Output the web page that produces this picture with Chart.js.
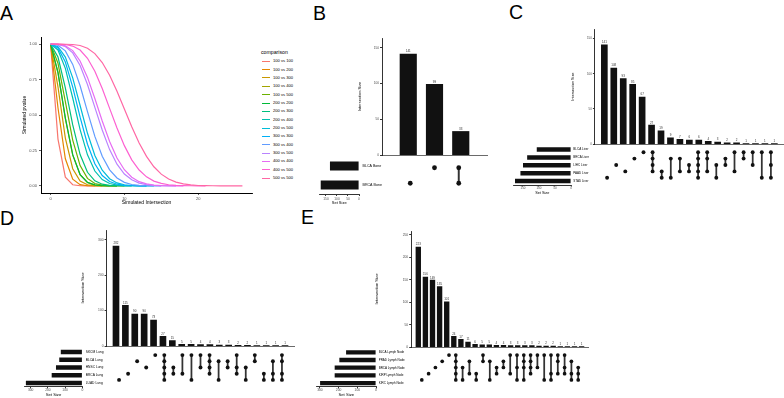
<!DOCTYPE html>
<html lang="en">
<head>
<meta charset="UTF-8">
<title>Simulated intersection p-values and metastasis UpSet plots</title>
<script src="https://cdn.jsdelivr.net/npm/chart.js"></script>
<style>
  html, body { margin: 0; padding: 0; background: #fff; }
  #fig { position: relative; width: 784px; height: 398px; overflow: hidden; font-family: "Liberation Sans", Arial, sans-serif; }
  #fig canvas { position: absolute; }
  .tag { position: absolute; font-size: 19.5px; line-height: 19.5px; color: #000; }
  .key { position: absolute; height: 8px; line-height: 8px; font-size: 4.1px; color: #000; white-space: nowrap; }
  .key i { position: absolute; left: 0; top: 3.5px; width: 8px; height: 1px; }
  .key span { position: absolute; left: 11px; top: 0; }
</style>
</head>
<body>
<div id="fig">
  <div class="tag" style="left:0px;top:4px">A</div>
  <div class="tag" style="left:313px;top:3.5px">B</div>
  <div class="tag" style="left:509px;top:2.5px">C</div>
  <div class="tag" style="left:0px;top:208.5px">D</div>
  <div class="tag" style="left:301px;top:207.5px">E</div>
</div>
<script>
// ---- A: simulated p-value against intersection size ----
const aX = [0, 1, 2, 3, 4, 5, 6, 7, 8, 9, 10, 11, 12, 13, 14, 15, 16, 17, 18, 19, 20, 21, 22, 23, 24, 25, 26];
const aComparisons = ['100 vs 100', '100 vs 200', '100 vs 300', '100 vs 400', '100 vs 500',
  '200 vs 200', '200 vs 300', '200 vs 400', '200 vs 500', '300 vs 300',
  '300 vs 400', '300 vs 500', '400 vs 400', '400 vs 500', '500 vs 500'];
const p100v100 = [1, 0.33, 0.062, 0.008, 0.001, 0, 0];
const p100v200 = [1, 0.551, 0.191, 0.047, 0.009, 0.001, 0, 0];
const p100v300 = [1, 0.699, 0.337, 0.121, 0.034, 0.008, 0.002, 0, 0];
const p100v400 = [1, 0.798, 0.475, 0.217, 0.079, 0.024, 0.006, 0.001, 0, 0];
const p100v500 = [1, 0.865, 0.594, 0.323, 0.143, 0.053, 0.017, 0.005, 0.001, 0, 0];
const p200v200 = [1, 0.8, 0.48, 0.22, 0.08, 0.025, 0.007, 0.001, 0, 0];
const p200v300 = [1, 0.909, 0.692, 0.43, 0.221, 0.096, 0.036, 0.012, 0.004, 0.001, 0, 0];
const p200v400 = [1, 0.959, 0.829, 0.62, 0.397, 0.219, 0.105, 0.045, 0.017, 0.006, 0.002, 0.001, 0, 0];
const p200v500 = [1, 0.982, 0.908, 0.762, 0.567, 0.371, 0.215, 0.111, 0.051, 0.021, 0.008, 0.003, 0.001, 0, 0];
const p300v300 = [1, 0.973, 0.874, 0.697, 0.485, 0.294, 0.156, 0.073, 0.031, 0.012, 0.004, 0.001, 0, 0];
const p300v400 = [1, 0.992, 0.952, 0.857, 0.706, 0.524, 0.349, 0.209, 0.113, 0.056, 0.025, 0.01, 0.004, 0.001, 0, 0];
const p300v500 = [1, 0.998, 0.983, 0.938, 0.849, 0.715, 0.554, 0.394, 0.256, 0.153, 0.084, 0.043, 0.02, 0.009, 0.004, 0.001, 0, 0];
const p400v400 = [1, 0.998, 0.988, 0.954, 0.881, 0.765, 0.616, 0.458, 0.313, 0.197, 0.114, 0.061, 0.03, 0.014, 0.006, 0.002, 0.001, 0, 0];
const p400v500 = [1, 1, 0.997, 0.986, 0.958, 0.9, 0.809, 0.687, 0.547, 0.408, 0.284, 0.184, 0.112, 0.064, 0.034, 0.018, 0.008, 0.004, 0.002, 0.001, 0, 0];
const p500v500 = [1, 1, 0.999, 0.997, 0.99, 0.971, 0.933, 0.87, 0.78, 0.667, 0.542, 0.417, 0.303, 0.208, 0.135, 0.083, 0.049, 0.027, 0.014, 0.007, 0.003, 0.002, 0.001, 0, 0, 0, 0];
const aSeries = [p100v100, p100v200, p100v300, p100v400, p100v500, p200v200, p200v300, p200v400,
  p200v500, p300v300, p300v400, p300v500, p400v400, p400v500, p500v500];
const aXTicks = [0, 10, 20];
const aYTicks = [0, 0.25, 0.5, 0.75, 1];

// ---- B: bone ----
const bSets = ['BLCA Bone', 'BRCA Bone'];
const bSetSizes = [132, 174];
const bSizes = [141, 99, 33];
const bMembers = [[1], [0], [0, 1]];

// ---- C: liver ----
const cSets = ['BLCA Liver', 'BRCA Liver', 'LIHC Liver', 'PAAD Liver', 'STAD Liver'];
const cSetSizes = [107, 137, 150, 158, 175];
const cSizes = [141, 108, 93, 85, 67, 27, 19, 9, 7, 6, 6, 4, 3, 2, 2, 1, 1, 1, 1];
const cMembers = [[4], [2], [3], [1], [0], [0, 1, 2, 3], [3, 4], [1, 4], [1, 3], [2, 3],
  [0, 1, 2, 3, 4], [0, 1, 3], [2, 4], [1, 2], [0, 3], [0, 1], [0, 2], [0, 4], [0, 2, 4]];

// ---- D: lung ----
const dSets = ['SKCM Lung', 'BLCA Lung', 'HNSC Lung', 'BRCA Lung', 'LUAD Lung'];
const dSetSizes = [125, 134, 153, 178, 328];
const dSizes = [282, 115, 90, 90, 73, 27, 15, 5, 5, 4, 4, 3, 3, 2, 2, 1, 1, 1, 1];
const dMembers = [[4], [3], [1], [2], [0], [0, 1, 2, 3, 4], [2, 3], [0, 3], [0, 4], [0, 2],
  [0, 1, 2, 3], [1, 4], [1, 2], [0, 2, 3], [2, 4], [0, 1], [3, 4], [1, 3, 4], [0, 1, 3, 4]];

// ---- E: lymph node ----
const eSets = ['BLCA Lymph Node', 'PRAD Lymph Node', 'BRCA Lymph Node', 'KIRP Lymph Node', 'KIRC Lymph Node'];
const eSetSizes = [160, 196, 221, 221, 299];
const eSizes = [223, 156, 149, 135, 101, 24, 17, 11, 6, 5, 5, 4, 4, 3, 3, 3, 3, 2, 2, 2, 1, 1, 1, 1];
const eMembers = [[4], [3], [2], [1], [0], [0, 1, 2, 3, 4], [2, 4], [1, 3], [3, 4], [0, 1],
  [1, 4], [2, 3], [1, 2], [0, 3], [0, 2, 4], [0, 1, 2, 4], [0, 1, 2, 3], [0, 2], [0, 4], [0, 3, 4],
  [0, 1, 3], [0, 2, 3], [1, 3, 4], [2, 3, 4]];

const hue = ['#F8766D', '#E58700', '#C99800', '#A3A500', '#6BB100', '#00BA38', '#00BF7D', '#00C0AF',
  '#00BCD8', '#00B0F6', '#619CFF', '#B983FF', '#E76BF3', '#FD61D1', '#FF67A4'];
const ink = '#111';
const tickGrey = '#4d4d4d';

Chart.defaults.font.family = '"Liberation Sans", Arial, sans-serif';

const fig = document.getElementById('fig');
function makeCanvas(left, top, width, height) {
  const c = document.createElement('canvas');
  c.width = width; c.height = height;
  c.style.left = left + 'px'; c.style.top = top + 'px';
  c.style.width = width + 'px'; c.style.height = height + 'px';
  fig.appendChild(c);
  return c;
}
const noChrome = { legend: { display: false }, tooltip: { enabled: false } };

// numbers above the intersection bars
const barLabels = {
  id: 'barLabels',
  afterDatasetsDraw(chart, args, opts) {
    const ctx = chart.ctx;
    const ds = chart.data.datasets[0];
    ctx.save();
    ctx.font = opts.size + 'px "Liberation Sans", Arial, sans-serif';
    ctx.fillStyle = '#333';
    ctx.textAlign = 'center';
    ctx.textBaseline = 'bottom';
    chart.getDatasetMeta(0).data.forEach((bar, i) => ctx.fillText(String(ds.data[i].y), bar.x, bar.y - 1));
    ctx.restore();
  }
};

// ---- panel A ----
new Chart(makeCanvas(0, 0, 258, 215), {
  type: 'scatter',
  data: {
    datasets: aComparisons.map((name, i) => ({
      label: name,
      data: aSeries[i].map((y, k) => ({ x: aX[k], y })),
      showLine: true, tension: 0, pointRadius: 0, borderWidth: 1.2,
      borderColor: hue[i], order: aComparisons.length - i
    }))
  },
  options: {
    responsive: false, animation: false, devicePixelRatio: 1,
    layout: { padding: { top: 37, right: 6, left: 0, bottom: 0 } },
    plugins: noChrome,
    scales: {
      x: {
        type: 'linear', min: -1.3, max: 27.3,
        afterFit: s => { s.height = 22; },
        afterBuildTicks: s => { s.ticks = aXTicks.map(v => ({ value: v })); },
        ticks: { padding: 1, font: { size: 4 }, color: tickGrey },
        grid: { drawOnChartArea: false, tickLength: 2, color: '#333', lineWidth: 0.8 },
        border: { color: '#000', width: 1 },
        title: { display: true, text: 'Simulated Intersection', color: '#000', font: { size: 5 }, padding: { top: 0, bottom: 9 } }
      },
      y: {
        min: -0.05, max: 1.05,
        afterFit: s => { s.width = 41; },
        afterBuildTicks: s => { s.ticks = aYTicks.map(v => ({ value: v })); },
        ticks: { padding: 2, font: { size: 4 }, color: tickGrey, callback: v => v.toFixed(2) },
        grid: { drawOnChartArea: false, tickLength: 2, color: '#333', lineWidth: 0.8 },
        border: { color: '#000', width: 1 },
        title: { display: true, text: 'Simulated pvalue', color: '#000', font: { size: 5 }, padding: { top: 22, bottom: 0 } }
      }
    }
  }
});

// legend of panel A
(function () {
  const title = document.createElement('div');
  title.className = 'key';
  title.style.cssText = 'left:261px;top:48.3px;font-size:5.2px;';
  title.textContent = 'comparison';
  fig.appendChild(title);
  aComparisons.forEach((name, i) => {
    const row = document.createElement('div');
    row.className = 'key';
    row.style.left = '262px';
    row.style.top = (57.3 + i * 8.34) + 'px';
    row.innerHTML = '<i style="background:' + hue[i] + '"></i><span></span>';
    row.querySelector('span').textContent = name;
    fig.appendChild(row);
  });
})();

// ---- UpSet panels: intersection bars, membership matrix, set-size bars ----
function upset(sets, setSizes, sizes, members, g) {
  const n = sizes.length, nr = sets.length;
  const yMax = Math.max(...sizes) * 1.16;
  const rowBottom = g.rowTop + nr * g.rowSp;
  const sL = g.sR - g.sMax * g.ppu;

  // intersection sizes
  const mL = Math.round(g.L - g.yw), mT = Math.round(g.T - 8), mR = Math.ceil(g.R + 2), mB = Math.round(g.B) + 2;
  new Chart(makeCanvas(mL, mT, mR - mL, mB - mT), {
    type: 'bar',
    data: { datasets: [{ data: sizes.map((v, i) => ({ x: i + 1, y: v })), backgroundColor: ink, barThickness: g.bw }] },
    options: {
      responsive: false, animation: false, devicePixelRatio: 1,
      layout: { padding: { top: g.T - mT, right: mR - g.R, left: 0, bottom: 0 } },
      plugins: Object.assign({ barLabels: { size: g.lab } }, noChrome),
      scales: {
        x: {
          type: 'linear', offset: false, min: 0, max: n + 1,
          afterFit: s => { s.height = mB - g.B; },
          ticks: { display: false }, grid: { display: false },
          border: { color: '#444', width: 0.8 }
        },
        y: {
          min: 0, max: yMax,
          afterFit: s => { s.width = g.L - mL; },
          ticks: { stepSize: g.step, includeBounds: false, padding: 1, font: { size: g.tick }, color: tickGrey },
          grid: { drawOnChartArea: false, tickLength: 2, color: '#000', lineWidth: 0.8 },
          border: { color: '#000', width: 0.8 },
          title: { display: true, text: 'Intersection Size', color: '#000', font: { size: g.ttl },
            padding: { top: g.titleX - mL - g.ttl * 0.6, bottom: 0 } }
        }
      }
    },
    plugins: [barLabels]
  });

  // matrix of dots and connectors
  const xL = Math.floor(g.L), xR = Math.ceil(g.R), yT = Math.floor(g.rowTop), yB = Math.ceil(rowBottom);
  const dots = [], links = [];
  members.forEach((m, i) => {
    m.forEach(r => dots.push({ x: i + 1, y: r }));
    if (m.length > 1) links.push({ x: i + 1, y: [Math.min(...m), Math.max(...m)] });
  });
  new Chart(makeCanvas(xL, yT, xR - xL, yB - yT), {
    type: 'bar',
    data: {
      datasets: [
        { type: 'scatter', data: dots, pointRadius: g.dot, backgroundColor: ink, borderWidth: 0, clip: false },
        { data: links, backgroundColor: '#333', barThickness: g.link, clip: false }
      ]
    },
    options: {
      responsive: false, animation: false, devicePixelRatio: 1,
      layout: { padding: { left: g.L - xL, right: xR - g.R, top: g.rowTop - yT, bottom: yB - rowBottom } },
      plugins: noChrome,
      scales: {
        x: { type: 'linear', offset: false, display: false, min: 0, max: n + 1 },
        y: { type: 'linear', display: false, min: -0.5, max: nr - 0.5, reverse: true }
      }
    }
  });

  // set sizes
  const sCL = Math.floor(sL - 4), sCR = Math.round(g.L), sCT = Math.floor(g.rowTop - 6), sCB = Math.ceil(rowBottom + g.axH);
  new Chart(makeCanvas(sCL, sCT, sCR - sCL, sCB - sCT), {
    type: 'bar',
    data: { labels: sets, datasets: [{ data: setSizes, backgroundColor: ink, barPercentage: 1, categoryPercentage: g.sBar }] },
    options: {
      indexAxis: 'y', responsive: false, animation: false, devicePixelRatio: 1,
      layout: { padding: { left: sL - sCL, top: g.rowTop - sCT, right: 0, bottom: 0 } },
      plugins: noChrome,
      scales: {
        x: {
          type: 'linear', reverse: true, min: 0, max: g.sMax,
          afterFit: s => { s.height = sCB - rowBottom; },
          ticks: { stepSize: g.sStep, includeBounds: false, padding: g.sPad, font: { size: g.tick }, color: tickGrey },
          grid: { drawOnChartArea: false, tickLength: 1.5, color: '#000', lineWidth: 0.8 },
          border: { color: '#000', width: 0.8 },
          title: { display: true, text: 'Set Size', color: '#000', font: { size: g.ttl },
            padding: { top: 0, bottom: sCB - g.sTitleY - g.ttl * 0.6 } }
        },
        y: {
          position: 'right',
          afterFit: s => { s.width = sCR - g.sR; },
          ticks: { padding: g.nameX - g.sR, font: { size: g.name }, color: '#000' },
          grid: { display: false, drawTicks: false }, border: { display: false }
        }
      }
    }
  });
}

upset(bSets, bSetSizes, bSizes, bMembers, {
  L: 382, R: 487, T: 38, B: 156, yw: 30, titleX: 360, step: 50, bw: 16.5,
  rowTop: 156.5, rowSp: 19, dot: 2.4, link: 1.3,
  sR: 359, ppu: 0.22, sMax: 180, sStep: 50, sBar: 0.48, nameX: 362.5, axH: 12, sPad: 0.8, sTitleY: 203.3,
  tick: 3.2, ttl: 4, name: 3.6, lab: 3
});
upset(cSets, cSetSizes, cSizes, cMembers, {
  L: 594.9, R: 783.8, T: 29, B: 145.3, yw: 26, titleX: 572.7, step: 50, bw: 6,
  rowTop: 145.6, rowSp: 7.88, dot: 1.95, link: 1.1,
  sR: 571, ppu: 0.32, sMax: 180, sStep: 50, sBar: 0.56, nameX: 573.3, axH: 11, sPad: 0.2, sTitleY: 193.3,
  tick: 3, ttl: 3.8, name: 3, lab: 3
});
upset(dSets, dSetSizes, dSizes, dMembers, {
  L: 106.6, R: 294.4, T: 230, B: 347.3, yw: 28, titleX: 83.3, step: 100, bw: 6,
  rowTop: 348.1, rowSp: 7.75, dot: 1.95, link: 1.1,
  sR: 82.3, ppu: 0.172, sMax: 335, sStep: 100, sBar: 0.56, nameX: 85.7, axH: 11, sPad: 0.2, sTitleY: 394.5,
  tick: 3.3, ttl: 4.2, name: 3.3, lab: 3
});
upset(eSets, eSetSizes, eSizes, eMembers, {
  L: 411.2, R: 588.7, T: 231, B: 347.7, yw: 38, titleX: 377.3, step: 50, bw: 4.7,
  rowTop: 348.5, rowSp: 7.68, dot: 1.85, link: 1.1,
  sR: 376, ppu: 0.187, sMax: 318, sStep: 100, sBar: 0.56, nameX: 378.7, axH: 11, sPad: 0.2, sTitleY: 394.5,
  tick: 3.3, ttl: 4.2, name: 3, lab: 3
});
</script>
</body>
</html>
